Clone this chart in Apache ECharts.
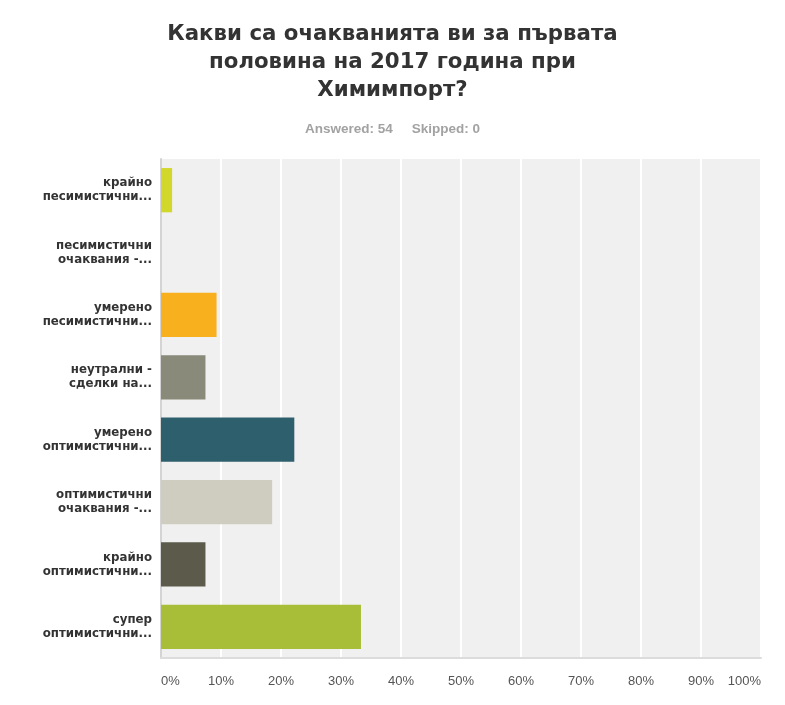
<!DOCTYPE html>
<html>
<head>
<meta charset="utf-8">
<script src="https://cdn.jsdelivr.net/npm/echarts@6/dist/echarts.min.js"></script>
<style>
html,body{margin:0;padding:0;background:#fff;}
#chart{width:785px;height:705px;}
</style>
</head>
<body>
<div id="chart"></div>
<script>
var titleText = 'Какви са очакванията ви за първата\nполовина на 2017 година при\nХимимпорт?';
var subText = 'Answered: 54     Skipped: 0';
var categories = [
  'крайно\nпесимистични...',
  'песимистични\nочаквания -...',
  'умерено\nпесимистични...',
  'неутрални -\nсделки на...',
  'умерено\nоптимистични...',
  'оптимистични\nочаквания -...',
  'крайно\nоптимистични...',
  'супер\nоптимистични...'
];
var values = [1.85, 0, 9.26, 7.41, 22.22, 18.52, 7.41, 33.33];
var barColors = ['#d1d72b', '#8fb4c4', '#f8b01f', '#898a79', '#2e5f6d', '#cfcdc0', '#5b5a4b', '#a9be38'];
var xTicks = [0, 100, 10];

var FONT = '"Liberation Sans", Arial, sans-serif';
var WIDE = '"DejaVu Sans", "Liberation Sans", Arial, sans-serif';
var chart = echarts.init(document.getElementById('chart'), null, {renderer: 'canvas'});
chart.setOption({
  animation: false,
  title: [{
    text: titleText,
    left: 'center',
    top: 15,
    textStyle: {fontFamily: WIDE, fontSize: 21.3, fontWeight: 'bold', color: '#333333', lineHeight: 28}
  }, {
    text: subText,
    left: 'center',
    top: 116,
    textStyle: {fontFamily: FONT, fontSize: 13.5, fontWeight: 'bold', color: '#a2a2a2', lineHeight: 16}
  }],
  grid: {left: 161, right: 24, top: 159, bottom: 47, show: true, backgroundColor: '#f0f0f0', borderWidth: 0},
  xAxis: {
    type: 'value',
    min: xTicks[0], max: xTicks[1], interval: xTicks[2],
    axisLine: {show: true, lineStyle: {color: '#dcdcdc', width: 2}},
    axisTick: {show: false},
    splitLine: {show: true, lineStyle: {color: '#ffffff', width: 2}},
    axisLabel: {
      formatter: '{value}%', fontFamily: FONT, fontSize: 13, color: '#555555', margin: 17,
      alignMinLabel: 'left', alignMaxLabel: 'right'
    }
  },
  yAxis: {
    type: 'category',
    inverse: true,
    data: categories,
    axisLine: {show: true, lineStyle: {color: '#d4d4d4', width: 2}},
    axisTick: {show: false},
    axisLabel: {fontFamily: WIDE, fontSize: 11.8, fontWeight: 'bold', color: '#333333', lineHeight: 14, margin: 9}
  },
  series: [{
    type: 'bar',
    barCategoryGap: '29%',
    data: values.map(function (v, i) { return {value: v, itemStyle: {color: barColors[i]}}; })
  }]
});
</script>
</body>
</html>
